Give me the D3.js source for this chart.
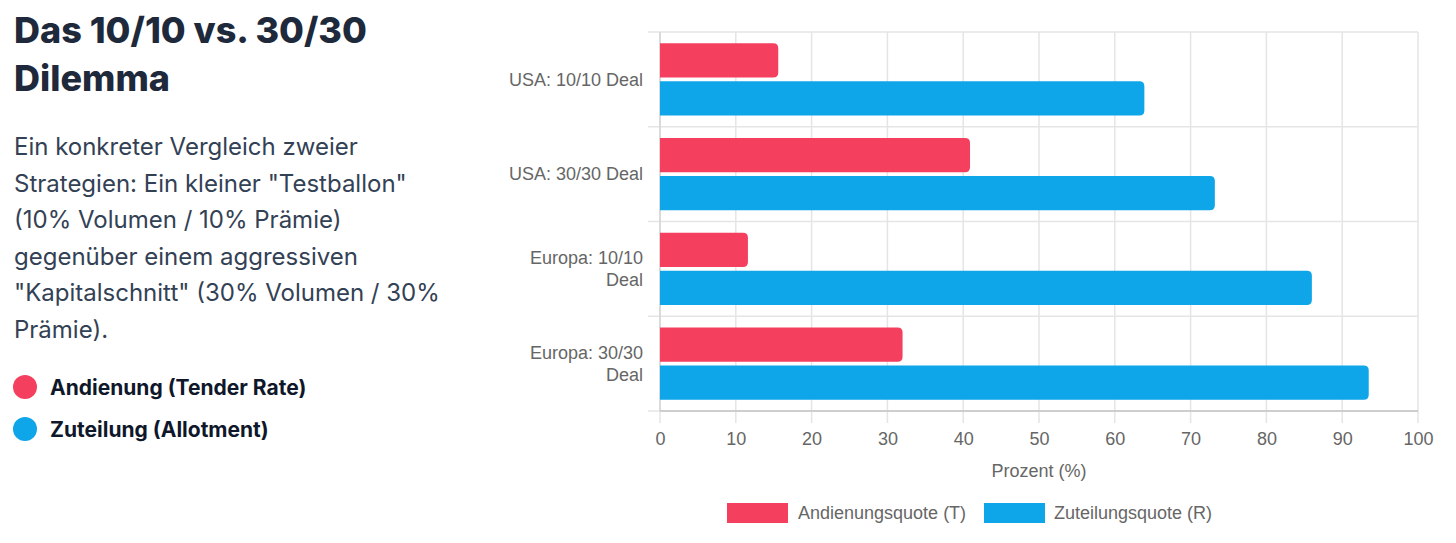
<!DOCTYPE html>
<html>
<head>
<meta charset="utf-8">
<script src="https://cdn.jsdelivr.net/npm/d3@7"></script>
<style>
  html, body { margin: 0; padding: 0; background: #fff; }
  svg { display: block; }
  .side { font-family: Inter, "Noto Sans", sans-serif; }
  .chart text { font-family: "Liberation Sans", Arial, Helvetica, sans-serif; fill: #666; font-size: 18px; }
</style>
</head>
<body>
<div id="root"></div>
<script>
// data
const categories = [
  ['USA: 10/10 Deal'],
  ['USA: 30/30 Deal'],
  ['Europa: 10/10', 'Deal'],
  ['Europa: 30/30', 'Deal'],
];
const seriesNames = ['Andienungsquote (T)', 'Zuteilungsquote (R)'];
const tenderRate = [15.6, 40.9, 11.6, 32.0];
const allotment = [63.9, 73.2, 86.0, 93.5];
const xTicks = [0, 10, 20, 30, 40, 50, 60, 70, 80, 90, 100];

const titleLines = ['Das 10/10 vs. 30/30', 'Dilemma'];
const bodyLines = [
  'Ein konkreter Vergleich zweier',
  'Strategien: Ein kleiner "Testballon"',
  '(10% Volumen / 10% Prämie)',
  'gegenüber einem aggressiven',
  '"Kapitalschnitt" (30% Volumen / 30%',
  'Prämie).',
];
const sideLegend = ['Andienung (Tender Rate)', 'Zuteilung (Allotment)'];

const colors = ['#f43f5e', '#0ea5e9'];

const width = 1456;
const height = 543;
const margin = { top: 32, right: 38, bottom: 132, left: 660 };
const plotW = width - margin.left - margin.right;
const plotH = height - margin.top - margin.bottom;

const svg = d3
  .select('#root')
  .append('svg')
  .attr('width', width)
  .attr('height', height);

// left text panel
const side = svg.append('g').attr('class', 'side');

side
  .selectAll('.title')
  .data(titleLines)
  .enter()
  .append('text')
  .attr('class', 'title')
  .attr('x', 14)
  .attr('y', (d, i) => 43 + i * 48)
  .attr('font-size', 36)
  .attr('font-weight', 800)
  .attr('fill', '#1e293b')
  .text((d) => d);

side
  .selectAll('.body')
  .data(bodyLines)
  .enter()
  .append('text')
  .attr('class', 'body')
  .attr('x', 14)
  .attr('y', (d, i) => 155 + i * 36.6)
  .attr('font-size', 24)
  .attr('fill', '#334155')
  .text((d) => d);

const sideItems = side
  .selectAll('.item')
  .data(sideLegend)
  .enter()
  .append('g')
  .attr('class', 'item')
  .attr('transform', (d, i) => `translate(0, ${387 + i * 42})`);

sideItems
  .append('circle')
  .attr('cx', 25)
  .attr('cy', 0)
  .attr('r', 12)
  .attr('fill', (d, i) => colors[i]);

sideItems
  .append('text')
  .attr('x', 50)
  .attr('y', 8)
  .attr('font-size', 21)
  .attr('font-weight', 700)
  .attr('fill', '#0f172a')
  .text((d) => d);

// chart
const chart = svg.append('g').attr('class', 'chart');
const graph = chart
  .append('g')
  .attr('transform', `translate(${margin.left}, ${margin.top})`);

const keys = categories.map((c) => c.join(' '));

//scales
const x = d3.scaleLinear().domain([0, 100]).range([0, plotW]);
const y = d3.scaleBand().domain(keys).range([0, plotH]).padding(0);
const inner = d3
  .scaleBand()
  .domain(seriesNames)
  .range([y.bandwidth() * 0.1, y.bandwidth() * 0.9])
  .paddingInner(0.1)
  .paddingOuter(0.05);

//grid
graph
  .append('g')
  .selectAll('line')
  .data(xTicks)
  .enter()
  .append('line')
  .attr('x1', (d) => x(d))
  .attr('x2', (d) => x(d))
  .attr('y1', 0)
  .attr('y2', plotH + 12)
  .attr('stroke', '#e5e5e5')
  .attr('stroke-width', 1.5);

const bounds = keys.map((k) => y(k)).concat([plotH]);
graph
  .append('g')
  .selectAll('line')
  .data(bounds)
  .enter()
  .append('line')
  .attr('x1', -12)
  .attr('x2', plotW)
  .attr('y1', (d) => d)
  .attr('y2', (d) => d)
  .attr('stroke', '#e5e5e5')
  .attr('stroke-width', 1.5);

// axis border lines
graph
  .append('line')
  .attr('x1', 0)
  .attr('x2', 0)
  .attr('y1', 0)
  .attr('y2', plotH)
  .attr('stroke', '#d4d4d4')
  .attr('stroke-width', 1.5);

graph
  .append('line')
  .attr('x1', 0)
  .attr('x2', plotW)
  .attr('y1', plotH)
  .attr('y2', plotH)
  .attr('stroke', '#c4c4c4')
  .attr('stroke-width', 1.5);

//bars, rounded at the value end
const barPath = (x0, y0, w, h, r) => {
  r = Math.min(r, w, h / 2);
  return `M${x0},${y0}H${x0 + w - r}Q${x0 + w},${y0} ${x0 + w},${y0 + r}` +
    `V${y0 + h - r}Q${x0 + w},${y0 + h} ${x0 + w - r},${y0 + h}H${x0}Z`;
};

const rows = keys.map((k, i) => ({
  key: k,
  values: [tenderRate[i], allotment[i]],
}));

const groups = graph
  .append('g')
  .selectAll('g')
  .data(rows)
  .enter()
  .append('g')
  .attr('transform', (d) => `translate(0, ${y(d.key)})`);

groups
  .selectAll('path')
  .data((d) => d.values.map((v, j) => ({ name: seriesNames[j], value: v, j })))
  .enter()
  .append('path')
  .attr('d', (d) => barPath(x(0), inner(d.name), x(d.value) - x(0), inner.bandwidth(), 5))
  .attr('fill', (d) => colors[d.j]);

//axes
const xAxis = d3.axisBottom(x).tickValues(xTicks).tickSize(0).tickPadding(21);
const xAxisGroup = graph
  .append('g')
  .attr('transform', `translate(0, ${plotH})`)
  .call(xAxis);
xAxisGroup.select('.domain').remove();
xAxisGroup.selectAll('text').attr('font-size', 18).attr('fill', '#666');

const yAxis = d3.axisLeft(y).tickSize(0).tickPadding(17).tickFormat('');
const yAxisGroup = graph.append('g').call(yAxis);
yAxisGroup.select('.domain').remove();

yAxisGroup.selectAll('.tick').each(function (d, i) {
  const lines = categories[i];
  const t = d3
    .select(this)
    .append('text')
    .attr('x', -17)
    .attr('text-anchor', 'end')
    .attr('font-size', 18);
  lines.forEach((line, k) => {
    t.append('tspan')
      .attr('x', -17)
      .attr('y', (k - (lines.length - 1) / 2) * 22)
      .attr('dy', '0.35em')
      .text(line);
  });
});

//axis title
graph
  .append('text')
  .attr('x', plotW / 2)
  .attr('y', plotH + 66)
  .attr('text-anchor', 'middle')
  .text('Prozent (%)');

//legend
const legendItems = [
  { name: seriesNames[0], x: 727, tx: 798 },
  { name: seriesNames[1], x: 984, tx: 1054 },
];
const legend = chart.append('g');
legend
  .selectAll('rect')
  .data(legendItems)
  .enter()
  .append('rect')
  .attr('x', (d) => d.x)
  .attr('y', 503)
  .attr('width', 61)
  .attr('height', 20)
  .attr('fill', (d, i) => colors[i]);

legend
  .selectAll('text')
  .data(legendItems)
  .enter()
  .append('text')
  .attr('x', (d) => d.tx)
  .attr('y', 519)
  .text((d) => d.name);
</script>
</body>
</html>
